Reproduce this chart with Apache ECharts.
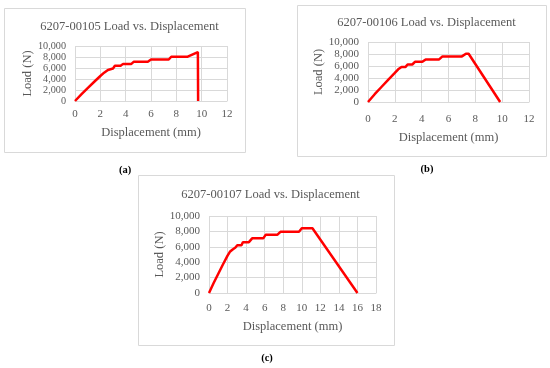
<!DOCTYPE html>
<html><head><meta charset="utf-8">
<script src="https://cdn.jsdelivr.net/npm/echarts@6/dist/echarts.min.js"></script>
<style>html,body{margin:0;padding:0;background:#fff}#c{width:550px;height:368px}</style>
</head><body><div id="c"></div>
<script>
// Data
const titles = ['6207-00105 Load vs. Displacement', '6207-00106 Load vs. Displacement', '6207-00107 Load vs. Displacement'];
const panelLabels = ['(a)', '(b)', '(c)'];
const xName = 'Displacement (mm)';
const yName = 'Load (N)';
const xMaxes = [12, 12, 18];
const yMax = 10000;

const dispA = [0, 0.5, 1.0, 1.5, 2.0, 2.3, 2.6, 2.7, 3.0, 3.15, 3.6, 3.8, 4.45, 4.65, 5.75, 6.0, 7.4, 7.6, 8.9, 9.7, 9.72];
const loadA = [0, 1200, 2350, 3450, 4550, 5150, 5650, 5900, 5900, 6400, 6400, 6750, 6750, 7150, 7150, 7550, 7550, 8050, 8050, 8900, 0];

const dispB = [0, 0.5, 1.0, 1.5, 2.0, 2.25, 2.5, 2.8, 2.95, 3.3, 3.5, 4.05, 4.3, 5.3, 5.55, 7.0, 7.3, 7.5, 9.85];
const loadB = [0, 1300, 2500, 3700, 4850, 5450, 5850, 5850, 6250, 6250, 6700, 6700, 7100, 7100, 7600, 7600, 8050, 8050, 0];

const dispC = [0, 0.5, 1.0, 1.5, 2.0, 2.25, 2.55, 2.85, 3.05, 3.5, 3.65, 4.3, 4.65, 5.85, 6.1, 7.35, 7.7, 9.7, 10.0, 11.15, 16.0];
const loadC = [0, 1300, 2500, 3700, 4850, 5350, 5650, 5900, 6200, 6200, 6600, 6600, 7100, 7100, 7550, 7550, 7950, 7950, 8400, 8400, 0];

const seriesDisp = [dispA, dispB, dispC];
const seriesLoad = [loadA, loadB, loadC];

// Layout
const FONT = '"Liberation Serif", "DejaVu Serif", serif';
const grids = [
  {left: 75, top: 46, width: 152, height: 55},
  {left: 368, top: 42, width: 161, height: 60},
  {left: 209, top: 216, width: 167, height: 77}
];
const boxes = [
  {x: 4, y: 8, w: 241, h: 144},
  {x: 297, y: 5, w: 249, h: 151},
  {x: 138, y: 175, w: 256, h: 170}
];
const titlePos = [[124.5, 15], [421.5, 11], [265.5, 183]];
const labelPos = [[125, 170], [427, 169], [267, 358]];
const xLabelMargin = [8, 12, 10];
const xNameGap = [25, 29, 27];
const yNameGap = [40, 40, 40];
const yLabelSize = [10.2, 11, 11];

const fmt = v => v.toString().replace(/\B(?=(\d{3})+(?!\d))/g, ',');

const option = {
  animation: false,
  title: titles.map((t, i) => ({
    text: t, left: titlePos[i][0], top: titlePos[i][1], textAlign: 'center',
    textStyle: {fontFamily: FONT, fontSize: 12.5, fontWeight: 'normal', color: '#595959'}
  })),
  grid: grids.map(g => Object.assign({containLabel: false}, g)),
  xAxis: grids.map((g, i) => ({
    type: 'value', gridIndex: i, min: 0, max: xMaxes[i], interval: 2,
    name: xName, nameLocation: 'middle', nameGap: xNameGap[i],
    nameTextStyle: {fontFamily: FONT, fontSize: 12.5, color: '#595959'},
    axisLine: {show: true, lineStyle: {color: '#d9d9d9'}},
    axisTick: {show: false},
    axisLabel: {fontFamily: FONT, fontSize: 11, color: '#595959', margin: xLabelMargin[i], showMinLabel: true, showMaxLabel: true},
    splitLine: {show: true, lineStyle: {color: '#d9d9d9', width: 1}}
  })),
  yAxis: grids.map((g, i) => ({
    type: 'value', gridIndex: i, min: 0, max: yMax, interval: 2000,
    name: yName, nameLocation: 'middle', nameGap: yNameGap[i], nameRotate: 90,
    nameTextStyle: {fontFamily: FONT, fontSize: 12.5, color: '#595959'},
    axisLine: {show: false},
    axisTick: {show: false},
    axisLabel: {fontFamily: FONT, fontSize: yLabelSize[i], lineHeight: yLabelSize[i], color: '#595959', margin: 9, formatter: fmt, showMinLabel: true, showMaxLabel: true, hideOverlap: false},
    splitLine: {show: true, lineStyle: {color: '#d9d9d9', width: 1}}
  })),
  series: seriesDisp.map((d, i) => ({
    type: 'line', xAxisIndex: i, yAxisIndex: i, symbol: 'none',
    lineStyle: {color: '#ff0000', width: 2.5}, itemStyle: {color: '#ff0000'},
    data: d.map((x, k) => [x, seriesLoad[i][k]])
  })),
  graphic: boxes.map(b => ({
    type: 'rect', shape: {x: b.x + 0.5, y: b.y + 0.5, width: b.w, height: b.h},
    style: {fill: 'none', stroke: '#d9d9d9', lineWidth: 1}, z: -1
  })).concat(panelLabels.map((t, i) => ({
    type: 'text', x: labelPos[i][0], y: labelPos[i][1],
    style: {text: t, font: 'bold 10.5px ' + FONT, fill: '#000', textAlign: 'center', textVerticalAlign: 'middle'}
  })))
};
echarts.init(document.getElementById('c')).setOption(option);
</script></body></html>
